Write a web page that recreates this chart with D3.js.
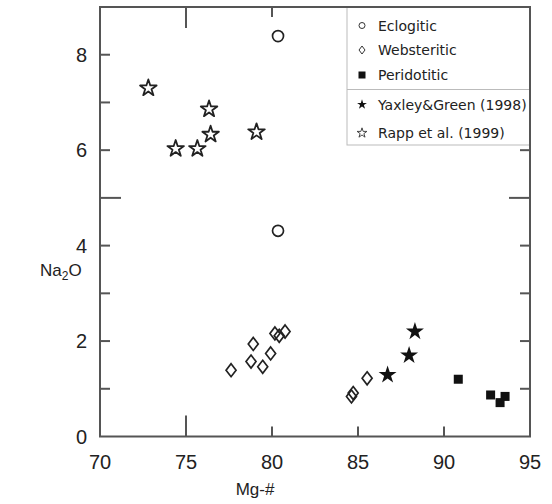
<!DOCTYPE html>
<html>
<head>
<meta charset="utf-8">
<script src="https://cdn.jsdelivr.net/npm/d3@7"></script>
<style>
  body { margin: 0; background: #fff; }
  svg { display: block; }
  text { font-family: "Liberation Sans", Arial, sans-serif; fill: #222; }
</style>
</head>
<body>
<svg id="chart" width="552" height="504"></svg>
<script>
// Mg-# vs Na2O for the xenolith groups and experimental melts
const eclogitic   = [[80.35, 8.39], [80.35, 4.31]];
const websteritic = [[77.62, 1.39], [78.91, 1.94], [78.78, 1.57], [79.46, 1.46], [79.92, 1.74],
                     [80.17, 2.16], [80.42, 2.11], [80.76, 2.20], [84.62, 0.84], [84.72, 0.91],
                     [85.53, 1.22]];
const peridotitic = [[90.83, 1.20], [92.71, 0.87], [93.26, 0.71], [93.55, 0.84]];
const yaxley      = [[86.72, 1.29], [87.97, 1.70], [88.31, 2.20]];
const rapp        = [[72.81, 7.30], [74.40, 6.03], [75.66, 6.03], [76.34, 6.86], [76.43, 6.33], [79.10, 6.38]];

const xTicks = [70, 75, 80, 85, 90, 95];
const yLabelTicks = [0, 2, 4, 6, 8];
const yTicks = [1, 2, 3, 4, 5, 6, 7, 8];
const legendItems = ["Eclogitic", "Websteritic", "Peridotitic", "Yaxley&Green (1998)", "Rapp et al. (1999)"];

const svg = d3.select("#chart");
const L = 100, R = 530, T = 7, B = 436.5;
const x = d3.scaleLinear().domain([70, 95]).range([L, R]);
const y = d3.scaleLinear().domain([0, 9]).range([B, T]);

const axisColor = "#555";
const star = d3.symbol().type(d3.symbolStar);

// frame ticks (pointing inward); the 75 and 5 ticks are drawn long
const tickLen = v => (v === 75 || v === 5) ? 21 : 10;
const g = svg.append("g").attr("stroke", axisColor).attr("stroke-width", 2);
xTicks.filter(v => v > 70 && v < 95).forEach(v => {
  g.append("line").attr("x1", x(v)).attr("x2", x(v)).attr("y1", B).attr("y2", B - tickLen(v));
  g.append("line").attr("x1", x(v)).attr("x2", x(v)).attr("y1", T).attr("y2", T + tickLen(v));
});
yTicks.forEach(v => {
  g.append("line").attr("x1", L).attr("x2", L + tickLen(v)).attr("y1", y(v)).attr("y2", y(v));
  g.append("line").attr("x1", R).attr("x2", R - tickLen(v)).attr("y1", y(v)).attr("y2", y(v));
});

// tick labels
svg.append("g").selectAll("text").data(xTicks).join("text")
  .attr("x", d => x(d)).attr("y", 469).attr("text-anchor", "middle")
  .attr("font-size", 20).text(d => d);
svg.append("g").selectAll("text").data(yLabelTicks).join("text")
  .attr("x", 87).attr("y", d => y(d) + 7).attr("text-anchor", "end")
  .attr("font-size", 20).text(d => d);

// axis titles
svg.append("text").attr("x", 255).attr("y", 495).attr("text-anchor", "middle")
  .attr("font-size", 17).text("Mg-#");
const na = svg.append("text").attr("x", 40).attr("y", 276).attr("font-size", 17);
na.append("tspan").text("Na");
na.append("tspan").attr("font-size", 12).attr("dy", 4).text("2");
na.append("tspan").attr("dy", -4).text("O");

// data marks
const plot = svg.append("g");
plot.selectAll(".ecl").data(eclogitic).join("circle")
  .attr("cx", d => x(d[0])).attr("cy", d => y(d[1])).attr("r", 5.5)
  .attr("fill", "none").attr("stroke", "#222").attr("stroke-width", 1.7);
plot.selectAll(".web").data(websteritic).join("path")
  .attr("transform", d => `translate(${x(d[0])},${y(d[1])})`)
  .attr("d", "M0,-6.5L5,0L0,6.5L-5,0Z")
  .attr("fill", "none").attr("stroke", "#222").attr("stroke-width", 1.7);
plot.selectAll(".per").data(peridotitic).join("rect")
  .attr("x", d => x(d[0]) - 4.5).attr("y", d => y(d[1]) - 4.5)
  .attr("width", 9).attr("height", 9).attr("fill", "#111");
plot.selectAll(".yax").data(yaxley).join("path")
  .attr("transform", d => `translate(${x(d[0])},${y(d[1])})`)
  .attr("d", star.size(100)()).attr("fill", "#111");
plot.selectAll(".rapp").data(rapp).join("path")
  .attr("transform", d => `translate(${x(d[0])},${y(d[1])})`)
  .attr("d", star.size(85)())
  .attr("fill", "#fff").attr("stroke", "#222").attr("stroke-width", 1.8).attr("stroke-linejoin", "round");

// legend box
const lg = svg.append("g");
lg.append("rect").attr("x", 347).attr("y", T).attr("width", R - 347).attr("height", 145 - T)
  .attr("fill", "#fff").attr("stroke", "#bbb").attr("stroke-width", 1);
lg.append("line").attr("x1", 347).attr("x2", R).attr("y1", 89.5).attr("y2", 89.5)
  .attr("stroke", "#bbb").attr("stroke-width", 1);
const ly = [25.5, 50, 75, 104.5, 133];
const sx = 362;
lg.append("circle").attr("cx", sx).attr("cy", ly[0]).attr("r", 3)
  .attr("fill", "none").attr("stroke", "#333").attr("stroke-width", 1);
lg.append("path").attr("transform", `translate(${sx},${ly[1]})`).attr("d", "M0,-4L3,0L0,4L-3,0Z")
  .attr("fill", "none").attr("stroke", "#333").attr("stroke-width", 1);
lg.append("rect").attr("x", sx - 3.5).attr("y", ly[2] - 3.5).attr("width", 7).attr("height", 7).attr("fill", "#111");
lg.append("path").attr("transform", `translate(${sx},${ly[3]})`).attr("d", star.size(30)()).attr("fill", "#111");
lg.append("path").attr("transform", `translate(${sx},${ly[4]})`).attr("d", star.size(30)())
  .attr("fill", "none").attr("stroke", "#333").attr("stroke-width", 0.9);
lg.selectAll(".lt").data(legendItems).join("text")
  .attr("x", 378).attr("y", (d, i) => ly[i] + 5).attr("font-size", 14)
  .style("font-family", "'DejaVu Sans', sans-serif").text(d => d);

// frame
svg.append("rect").attr("x", L).attr("y", T).attr("width", R - L).attr("height", B - T)
  .attr("fill", "none").attr("stroke", axisColor).attr("stroke-width", 2);
</script>
</body>
</html>
